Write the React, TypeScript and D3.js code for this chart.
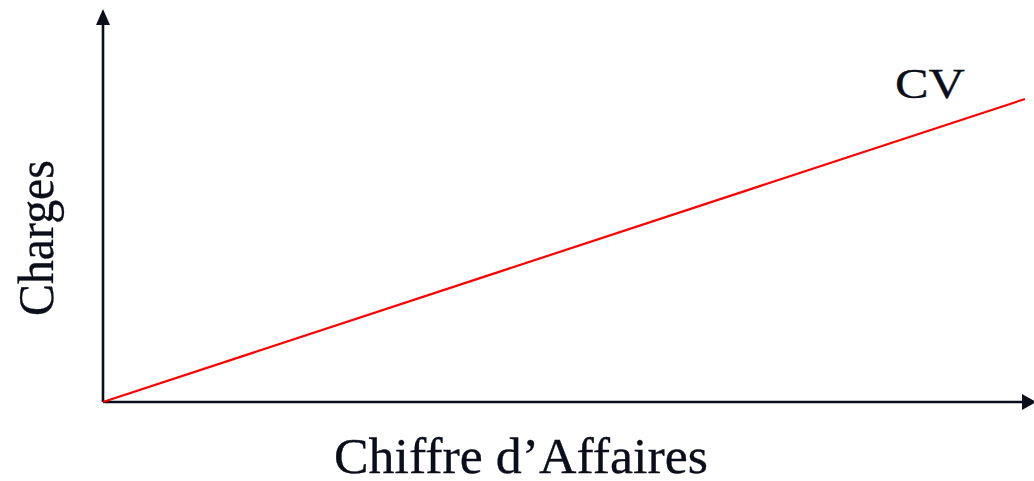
import React from "react";
import * as d3 from "d3";

const caValues = [0, 100];
const cvValues = [0, 100];
const xLabel = "Chiffre d’Affaires";
const yLabel = "Charges";
const seriesLabel = "CV";

const W = 1034;
const H = 481;

export default function App() {
  const x = d3.scaleLinear().domain([0, 100]).range([103, 1025]);
  const y = d3.scaleLinear().domain([0, 100]).range([402, 99]);
  const pts = caValues.map((c, i) => [c, cvValues[i]] as [number, number]);
  const line = d3
    .line<[number, number]>()
    .x((d) => x(d[0]))
    .y((d) => y(d[1]));
  const ink = "#0b0e1a";
  const font = "'Liberation Serif', 'Times New Roman', serif";
  const x0 = x(0);
  const y0 = y(0);
  return (
    <svg
      width={W}
      height={H}
      style={{ position: "absolute", left: 0, top: 0, background: "#fff" }}
    >
      <line x1={x0} y1={y0} x2={x0} y2={24} stroke={ink} strokeWidth={2.6} />
      <path d={`M${x0 - 7},25 L${x0},9 L${x0 + 7},25 Z`} fill={ink} />
      <line x1={x0} y1={y0} x2={1024} y2={y0} stroke={ink} strokeWidth={2.6} />
      <path d={`M1022,${y0 - 8} L1036,${y0} L1022,${y0 + 8} Z`} fill={ink} />
      <path d={line(pts) || ""} fill="none" stroke="#ff0000" strokeWidth={2.2} />
      <text
        x={895}
        y={97.5}
        fontFamily={font}
        fontSize={43}
        fill={ink}
        stroke={ink}
        strokeWidth={0.3}
        textLength={70}
        lengthAdjust="spacingAndGlyphs"
      >
        {seriesLabel}
      </text>
      <text
        x={334}
        y={473}
        fontFamily={font}
        fontSize={50}
        fill={ink}
        stroke={ink}
        strokeWidth={0.3}
        textLength={374}
        lengthAdjust="spacingAndGlyphs"
      >
        {xLabel}
      </text>
      <text
        transform="translate(53,316) rotate(-90)"
        fontFamily={font}
        fontSize={50}
        fill={ink}
        stroke={ink}
        strokeWidth={0.3}
        textLength={156}
        lengthAdjust="spacingAndGlyphs"
      >
        {yLabel}
      </text>
    </svg>
  );
}
